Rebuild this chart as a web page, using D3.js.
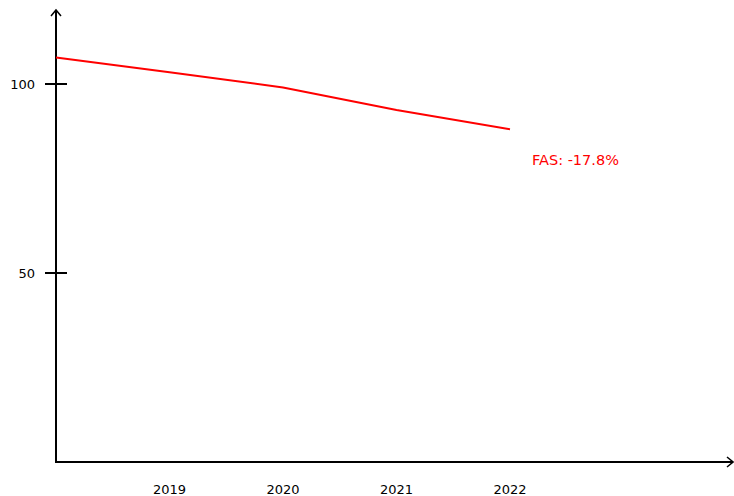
<!DOCTYPE html>
<html>
<head>
<meta charset="utf-8">
<script src="https://cdn.jsdelivr.net/npm/d3@7"></script>
<style>
  body { margin: 0; background: #fff; }
  svg { display: block; font-family: "DejaVu Sans", sans-serif; }
</style>
</head>
<body>
<div id="chart"></div>
<script>
var w = 734;
var h = 496;

// data
var years = [2018, 2019, 2020, 2021, 2022];
var values = [107, 103.1, 99.1, 93.1, 88];
var yTicks = [50, 100];
var xTicks = [2019, 2020, 2021, 2022];
var seriesName = "FAS";

var change = (values[values.length - 1] / values[0] - 1) * 100;

var x = d3.scaleLinear().domain([2018, 2024]).range([56, 737]);
var y = d3.scaleLinear().domain([0, 100]).range([462, 84]);

var svg = d3.select("#chart")
  .append("svg")
  .attr("width", w)
  .attr("height", h);

// axes
svg.append("line")
  .attr("x1", 56).attr("y1", 462)
  .attr("x2", 56).attr("y2", 10)
  .attr("stroke", "#000").attr("stroke-width", 2);
svg.append("path")
  .attr("d", "M51,16 L56,10 L61,16")
  .attr("fill", "none").attr("stroke", "#000").attr("stroke-width", 1.5);

svg.append("line")
  .attr("x1", 55).attr("y1", 462)
  .attr("x2", 733).attr("y2", 462)
  .attr("stroke", "#000").attr("stroke-width", 2);
svg.append("path")
  .attr("d", "M727,457 L733,462 L727,467")
  .attr("fill", "none").attr("stroke", "#000").attr("stroke-width", 1.5);

// y ticks
var yt = svg.selectAll(".ytick")
  .data(yTicks)
  .enter().append("g")
  .attr("class", "ytick");
yt.append("line")
  .attr("x1", 45).attr("x2", 67)
  .attr("y1", function(d) { return y(d); })
  .attr("y2", function(d) { return y(d); })
  .attr("stroke", "#000").attr("stroke-width", 2);
yt.append("text")
  .attr("x", 35)
  .attr("y", function(d) { return y(d) + 4.7; })
  .attr("text-anchor", "end")
  .attr("font-size", "13px")
  .attr("fill", "#000")
  .text(function(d) { return d; });

// x tick labels
svg.selectAll(".xlabel")
  .data(xTicks)
  .enter().append("text")
  .attr("class", "xlabel")
  .attr("x", function(d) { return x(d); })
  .attr("y", 494)
  .attr("text-anchor", "middle")
  .attr("font-size", "13px")
  .attr("fill", "#000")
  .text(function(d) { return d; });

// series line
var line = d3.line()
  .x(function(d, i) { return x(years[i]); })
  .y(function(d) { return y(d); });

svg.append("path")
  .datum(values)
  .attr("d", line)
  .attr("fill", "none")
  .attr("stroke", "#ff0000")
  .attr("stroke-width", 2);

// change label
svg.append("text")
  .attr("x", x(2022) + 22)
  .attr("y", 165)
  .attr("font-size", "14.5px")
  .attr("fill", "#ff0000")
  .text(seriesName + ": " + change.toFixed(1) + "%");
</script>
</body>
</html>
